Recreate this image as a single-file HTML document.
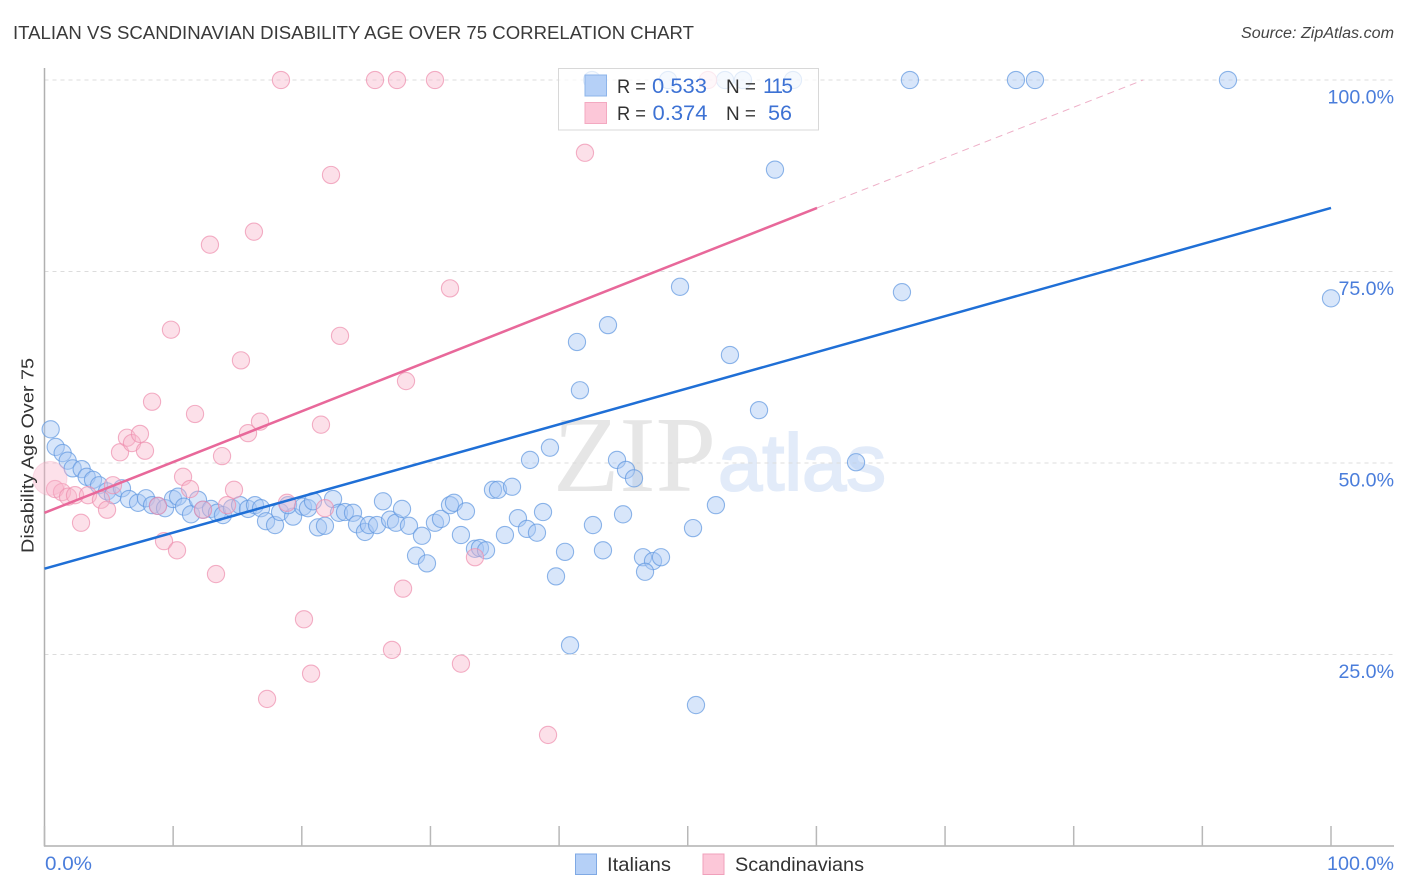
<!DOCTYPE html>
<html>
<head>
<meta charset="utf-8">
<title>Italian vs Scandinavian Disability Age Over 75 Correlation Chart</title>
<style>
html,body{margin:0;padding:0;background:#fff;}
#wrap{position:relative;width:1406px;height:892px;overflow:hidden;background:#fff;}
svg{position:absolute;left:0;top:0;}
text{font-family:"Liberation Sans",sans-serif;}
</style>
</head>
<body>
<div id="wrap">
<svg id="chart" width="1406" height="892" viewBox="0 0 1406 892">
  <text x="13" y="39" font-size="18.6" fill="#3a3a3a" textLength="681" lengthAdjust="spacingAndGlyphs">ITALIAN VS SCANDINAVIAN DISABILITY AGE OVER 75 CORRELATION CHART</text>
  <text x="1241" y="38" font-size="15.5" font-style="italic" fill="#444" textLength="153" lengthAdjust="spacingAndGlyphs">Source: ZipAtlas.com</text>
  <g>
    <text x="553" y="491" font-size="108" fill="#e6e6e6" style="font-family:'Liberation Serif',serif" textLength="163" lengthAdjust="spacingAndGlyphs">ZIP</text>
    <text x="718" y="490" font-size="80" fill="#e2ebf9" stroke="#e2ebf9" stroke-width="2" textLength="168" lengthAdjust="spacingAndGlyphs">atlas</text>
  </g>
  <g id="grid"></g>
  <g id="axes"></g>
  <g id="ital"></g>
  <g id="scan"></g>
  <g id="trends"></g>
  <g id="yticks"></g>
  <text transform="translate(33.500,553) rotate(-90)" font-size="17.5" fill="#333" textLength="195" lengthAdjust="spacingAndGlyphs">Disability Age Over 75</text>
  <text x="45" y="870" font-size="19.500" fill="#4a7ddb" textLength="47" lengthAdjust="spacingAndGlyphs">0.0%</text>
  <text x="1327" y="870" font-size="19.500" fill="#4a7ddb" textLength="67" lengthAdjust="spacingAndGlyphs">100.0%</text>

  <g>
    <rect x="558.5" y="68.5" width="260" height="61.5" fill="#fff" fill-opacity="0.75" stroke="#d8d8d8" stroke-width="1"/>
    <rect x="585" y="75" width="21.5" height="21" fill="#b5d0f7" stroke="#8db4ea" stroke-width="1"/>
    <rect x="585" y="102.500" width="21.5" height="21" fill="#fcc7d8" stroke="#f3a9c1" stroke-width="1"/>
    <text x="617" y="93" font-size="19" fill="#333" textLength="29" lengthAdjust="spacingAndGlyphs">R =</text>
    <text x="652" y="93" font-size="21" fill="#3d72d4" textLength="55" lengthAdjust="spacingAndGlyphs">0.533</text>
    <text x="726" y="93" font-size="19" fill="#333" textLength="30" lengthAdjust="spacingAndGlyphs">N =</text>
    <text x="763" y="93" font-size="21" fill="#3d72d4" textLength="30" lengthAdjust="spacing">115</text>
    <text x="617" y="120" font-size="19" fill="#333" textLength="29" lengthAdjust="spacingAndGlyphs">R =</text>
    <text x="652.500" y="120" font-size="21" fill="#3d72d4" textLength="55" lengthAdjust="spacingAndGlyphs">0.374</text>
    <text x="726" y="120" font-size="19" fill="#333" textLength="30" lengthAdjust="spacingAndGlyphs">N =</text>
    <text x="768" y="120" font-size="21" fill="#3d72d4" textLength="24" lengthAdjust="spacingAndGlyphs">56</text>
  </g>

  <g>
    <g>
      <rect x="575.5" y="854" width="21" height="20.500" fill="#b5d0f7" stroke="#7fa9e4" stroke-width="1"/>
      <text x="607" y="871" font-size="19.500" fill="#333" textLength="64" lengthAdjust="spacingAndGlyphs">Italians</text>
    </g>
    <g>
      <rect x="703" y="854" width="21" height="20.500" fill="#fcc7d8" stroke="#f0a0bb" stroke-width="1"/>
      <text x="735" y="871" font-size="19.500" fill="#333" textLength="129" lengthAdjust="spacingAndGlyphs">Scandinavians</text>
    </g>
  </g>
</svg>
</div>
<script>
const italiansX = [0.48,0.87,1.41,1.80,2.19,2.89,3.28,3.77,4.24,4.86,5.32,6.02,6.57,7.27,7.89,8.36,8.82,9.37,9.99,10.38,10.84,11.39,11.93,12.32,12.94,13.41,13.87,14.57,15.20,15.82,16.36,16.83,17.22,17.92,18.31,19.32,18.93,20.09,20.48,20.87,21.26,21.80,22.43,22.89,23.36,23.98,24.29,24.91,25.22,25.85,26.31,26.86,27.32,27.79,28.33,29.34,28.88,29.73,30.35,30.82,31.52,31.83,32.76,32.37,33.46,33.85,34.32,35.79,34.86,35.25,36.34,36.80,37.50,38.28,38.75,37.74,39.29,40.46,39.76,42.63,43.41,44.97,44.50,45.20,45.82,46.52,47.30,47.92,46.68,50.41,40.85,50.64,52.19,63.08,55.54,53.28,41.62,41.39,43.80,49.40,66.65,100,56.78,67.27,75.51,76.99,91.99,42.56,48.47,52.90,54.29,58.18];
const italiansY = [54.4,52.1,51.3,50.3,49.3,49.2,48.2,47.8,47.1,46.3,45.8,46.7,45.3,44.8,45.4,44.5,44.4,44.1,45.3,45.6,44.3,43.3,45.2,43.9,44.0,43.5,43.2,44.1,44.5,44.0,44.5,44.1,42.4,41.9,43.6,43.0,44.5,44.3,44.1,45.0,41.6,41.8,45.3,43.5,43.6,43.5,42.0,41.0,41.9,41.9,45.0,42.6,42.2,44.0,41.8,40.5,37.9,36.9,42.2,42.7,44.5,44.8,43.7,40.6,38.8,38.9,38.6,40.6,46.5,46.5,46.9,42.8,41.4,40.9,43.6,50.4,52.0,38.4,35.2,41.9,38.6,43.3,50.4,49.1,48.0,37.7,37.2,37.7,35.8,41.5,26.2,18.4,44.5,50.1,56.9,64.1,59.5,65.8,68.0,73.0,72.3,71.5,88.3,100,100,100,100,100,100,100,100,100];
const scandinaviansX = [0.82,1.36,1.83,2.37,3.38,2.84,4.39,4.86,5.32,5.87,6.41,6.80,7.42,7.81,9.29,10.30,10.77,11.31,8.82,12.32,13.33,13.80,14.19,14.73,15.82,16.75,21.49,18.85,21.80,8.36,11.70,9.83,12.86,16.28,15.27,22.97,22.27,28.10,31.52,27.87,33.46,20.17,27.01,32.37,20.72,17.30,39.14,42.01,18.38,25.69,27.40,30.35,51.57];
const scandinaviansY = [46.6,46.2,45.6,45.8,45.8,42.2,45.2,43.9,47.1,51.4,53.3,52.6,53.8,51.6,39.8,38.6,48.2,46.6,44.4,43.9,35.5,50.9,44.5,46.5,53.9,55.4,55.0,44.8,44.1,58.0,56.4,67.4,78.5,80.2,63.4,66.6,87.6,60.7,72.8,33.6,37.7,29.6,25.6,23.8,22.5,19.2,14.5,90.5,100,100,100,100,100];
const largeScandinavianX = [0.43];
const largeScandinavianY = [48.0];
const italiansTrendX = [0, 100];
const italiansTrendY = [36.2, 83.3];
const scandinaviansTrendX = [0, 60.05];
const scandinaviansTrendY = [43.5, 83.3];
const scandinaviansExtrapolationX = [60.05, 85.4];
const scandinaviansExtrapolationY = [83.3, 100];
const yGridValues = [100, 75, 50, 25];
const yTickLabels = ["100.0%", "75.0%", "50.0%", "25.0%"];
const xTickValues = [0, 10, 20, 30, 40, 50, 60, 70, 80, 90, 100];

const NS = 'http://www.w3.org/2000/svg';
const xScale = v => 44.5 + v * 12.865;
const yScale = v => 846 - v * 7.66;
function make(tag, attrs, parent) {
  const el = document.createElementNS(NS, tag);
  for (const k in attrs) el.setAttribute(k, attrs[k]);
  parent.appendChild(el);
  return el;
}
const gridG = document.getElementById('grid');
const axesG = document.getElementById('axes');
const yticksG = document.getElementById('yticks');
const italG = document.getElementById('ital');
const scanG = document.getElementById('scan');
const trendsG = document.getElementById('trends');

yGridValues.forEach((v, i) => {
  const gl = make('line', {x1: 44.5, x2: 1394, y1: yScale(v), y2: yScale(v), stroke: '#dcdcdc', 'stroke-width': 1, 'stroke-dasharray': '4 4'}, gridG);
  
  
  const tl = make('text', {x: 1394, y: yScale(v) + 23.5, 'font-size': 19.6, fill: '#4a7ddb', 'text-anchor': 'end'}, yticksG);
  tl.textContent = yTickLabels[i];
  
  
});

const yAxis = make('line', {x1: 44.5, x2: 44.5, y1: 68, y2: 846.5, stroke: '#b0b0b0', 'stroke-width': 1.5}, axesG);


const xAxis = make('line', {x1: 44, x2: 1394, y1: 846, y2: 846, stroke: '#b0b0b0', 'stroke-width': 1.5}, axesG);


xTickValues.forEach(v => {
  const t = make('line', {x1: xScale(v), x2: xScale(v), y1: 826, y2: 846, stroke: '#b8b8b8', 'stroke-width': 1.5}, axesG);
  
  
});

italiansX.forEach((v, i) => {
  const c = make('circle', {cx: xScale(v), cy: yScale(italiansY[i]), r: 8.6, fill: '#a8c8f4', 'fill-opacity': 0.45, stroke: '#5f97e0', 'stroke-opacity': 0.7, 'stroke-width': 1.1}, italG);
  
  
});
scandinaviansX.forEach((v, i) => {
  const c = make('circle', {cx: xScale(v), cy: yScale(scandinaviansY[i]), r: 8.6, fill: '#f9b4ca', 'fill-opacity': 0.42, stroke: '#ee8fae', 'stroke-opacity': 0.7, 'stroke-width': 1.1}, scanG);
  
  
});
largeScandinavianX.forEach((v, i) => {
  const c = make('circle', {cx: xScale(v), cy: yScale(largeScandinavianY[i]), r: 17, fill: '#f9b4ca', 'fill-opacity': 0.4, stroke: '#ee8fae', 'stroke-opacity': 0.25, 'stroke-width': 1}, scanG);
  
  
});

const blueLine = make('line', {x1: xScale(italiansTrendX[0]), y1: yScale(italiansTrendY[0]), x2: xScale(italiansTrendX[1]), y2: yScale(italiansTrendY[1]), stroke: '#1f6fd6', 'stroke-width': 2.5}, trendsG);


const pinkLine = make('line', {x1: xScale(scandinaviansTrendX[0]), y1: yScale(scandinaviansTrendY[0]), x2: xScale(scandinaviansTrendX[1]), y2: yScale(scandinaviansTrendY[1]), stroke: '#e8689a', 'stroke-width': 2.5}, trendsG);


const pinkExt = make('line', {x1: xScale(scandinaviansExtrapolationX[0]), y1: yScale(scandinaviansExtrapolationY[0]), x2: xScale(scandinaviansExtrapolationX[1]), y2: yScale(scandinaviansExtrapolationY[1]), stroke: '#eeb0c8', 'stroke-width': 1, 'stroke-dasharray': '7 5'}, trendsG);


</script>
</body>
</html>
